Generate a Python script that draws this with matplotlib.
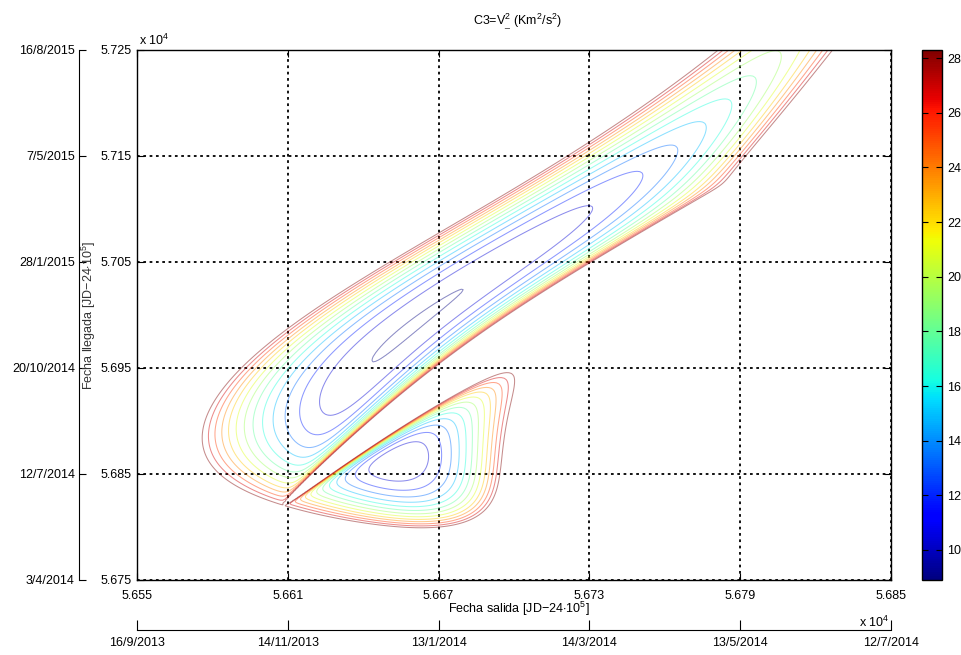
import numpy as np
import matplotlib
matplotlib.use("Agg")
import matplotlib.pyplot as plt
from matplotlib import colors, cm

plt.rcParams['font.family'] = ['Liberation Sans', 'DejaVu Sans']
plt.rcParams['mathtext.fontset'] = 'custom'
plt.rcParams['mathtext.rm'] = 'Liberation Sans'
plt.rcParams['mathtext.it'] = 'Liberation Sans'

# departure / arrival windows (JD - 2400000)
dep_range = [56550, 56850]
arr_range = [56750, 57250]
x_ticks = [56550, 56610, 56670, 56730, 56790, 56850]
y_ticks = [56750, 56850, 56950, 57050, 57150, 57250]
x_tick_labels = ['5.655', '5.661', '5.667', '5.673', '5.679', '5.685']
y_tick_labels = ['5.675', '5.685', '5.695', '5.705', '5.715', '5.725']
dep_dates = ['16/9/2013', '14/11/2013', '13/1/2014', '14/3/2014', '13/5/2014', '12/7/2014']
arr_dates = ['3/4/2014', '12/7/2014', '20/10/2014', '28/1/2015', '7/5/2015', '16/8/2015']

# mean orbital elements (J2000) and rates per century: a[AU], e, I, L, long.peri, long.node [deg]
earth_el = [1.00000261, 0.01671123, -0.00001531, 100.46457166, 102.93768193, 0.0]
earth_rate = [0.00000562, -0.00004392, -0.01294668, 35999.37244981, 0.32327364, 0.0]
mars_el = [1.52371034, 0.09339410, 1.84969142, -4.55343205, -23.94362959, 49.55953891]
mars_rate = [0.00001847, 0.00007882, -0.00813131, 19140.30268499, 0.44441088, -0.29257343]

# C3 contour levels and colour limits (km^2/s^2)
c3_levels = [8.9, 10.4, 11.9, 13.4, 14.9, 16.4, 17.9, 19.4, 20.9, 22.4, 23.8, 25.3, 26.8, 28.3]
c3_lim = [8.9, 28.3]
cbar_ticks = [10, 12, 14, 16, 18, 20, 22, 24, 26, 28]

MU = 1.32712440018e11
AU = 1.495978707e8


def planet_state(el, rate, jd):
    T = (jd + 2400000.0 - 2451545.0) / 36525.0
    a, e, inc, L, wbar, node = [el[i] + rate[i] * T for i in range(6)]
    a = a * AU
    inc, L, wbar, node = np.radians(inc), np.radians(L), np.radians(wbar), np.radians(node)
    w = wbar - node
    M = np.mod(L - wbar, 2 * np.pi)
    E = M.copy()
    for _ in range(15):
        E = E - (E - e * np.sin(E) - M) / (1 - e * np.cos(E))
    xp = a * (np.cos(E) - e)
    yp = a * np.sqrt(1 - e ** 2) * np.sin(E)
    n = np.sqrt(MU / a ** 3)
    Ed = n / (1 - e * np.cos(E))
    vxp = -a * np.sin(E) * Ed
    vyp = a * np.sqrt(1 - e ** 2) * np.cos(E) * Ed
    cw, sw, cO, sO, ci, si = np.cos(w), np.sin(w), np.cos(node), np.sin(node), np.cos(inc), np.sin(inc)
    R = [[cw * cO - sw * sO * ci, -sw * cO - cw * sO * ci],
         [cw * sO + sw * cO * ci, -sw * sO + cw * cO * ci],
         [sw * si, cw * si]]
    r = np.array([R[k][0] * xp + R[k][1] * yp for k in range(3)])
    v = np.array([R[k][0] * vxp + R[k][1] * vyp for k in range(3)])
    return r, v


def stumpff(z):
    S = np.full_like(z, 1.0 / 6.0)
    C = np.full_like(z, 0.5)
    p = z > 1e-8
    s = np.sqrt(z[p])
    S[p] = (s - np.sin(s)) / s ** 3
    C[p] = (1 - np.cos(s)) / z[p]
    q = z < -1e-8
    s = np.sqrt(-z[q])
    S[q] = (np.sinh(s) - s) / s ** 3
    C[q] = (np.cosh(s) - 1) / (-z[q])
    return S, C


dep = np.arange(dep_range[0], dep_range[1] + 1, 1.0)
arr = np.arange(arr_range[0], arr_range[1] + 1, 1.0)
D, A_ = np.meshgrid(dep, arr)
tof = (A_ - D) * 86400.0

r1, vE = planet_state(earth_el, earth_rate, D)
r2, vM = planet_state(mars_el, mars_rate, A_)
n1 = np.linalg.norm(r1, axis=0)
n2 = np.linalg.norm(r2, axis=0)
cosd = np.clip(np.sum(r1 * r2, axis=0) / (n1 * n2), -1, 1)
dth = np.arccos(cosd)
crz = r1[0] * r2[1] - r1[1] * r2[0]
dth = np.where(crz < 0, 2 * np.pi - dth, dth)
Acoef = np.sin(dth) * np.sqrt(n1 * n2 / (1 - np.cos(dth)))

# universal-variable Lambert solution, bisection on z
lo = np.full_like(D, -100.0)
hi = np.full_like(D, 4 * np.pi ** 2 - 1e-9)
for _ in range(70):
    z = 0.5 * (lo + hi)
    S, C = stumpff(z)
    y = n1 + n2 + Acoef * (z * S - 1) / np.sqrt(C)
    ypos = np.where(y > 0, y, 1.0)
    F = (ypos / C) ** 1.5 * S + Acoef * np.sqrt(ypos) - np.sqrt(MU) * tof
    F = np.where(y > 0, F, -1.0)
    lo = np.where(F < 0, z, lo)
    hi = np.where(F < 0, hi, z)
z = 0.5 * (lo + hi)
S, C = stumpff(z)
y = n1 + n2 + Acoef * (z * S - 1) / np.sqrt(C)
f = 1 - y / n1
g = Acoef * np.sqrt(np.abs(y) / MU)
v1 = (r2 - f * r1) / g
c3 = np.sum((v1 - vE) ** 2, axis=0)
c3 = np.where(tof > 60 * 86400, c3, np.nan)

W, H = 962, 655
fig = plt.figure(figsize=(W / 100, H / 100), dpi=100)
ax_l, ax_r, ax_t, ax_b = 137, 891, 50, 580
ax = fig.add_axes([ax_l / W, 1 - ax_b / H, (ax_r - ax_l) / W, (ax_b - ax_t) / H])

norm = colors.Normalize(vmin=c3_lim[0], vmax=c3_lim[1])
ax.contour(D, A_, c3, levels=c3_levels, cmap='jet', norm=norm, linewidths=0.75, alpha=0.45)

ax.set_xlim(dep_range)
ax.set_ylim(arr_range)
ax.set_xticks(x_ticks)
ax.set_xticklabels(x_tick_labels)
ax.set_yticks(y_ticks)
ax.set_yticklabels(y_tick_labels)
ax.tick_params(direction='in', top=True, right=True, length=5, labelsize=9)
ax.tick_params(axis='x', pad=7)
ax.tick_params(axis='y', pad=4)
ax.grid(True, color='black', linestyle=(0, (1.5, 2.0)), linewidth=1.3)
for s in ax.spines.values():
    s.set_linewidth(1.0)

ax.text(0.003, 1.004, r'x 10$^4$', transform=ax.transAxes, fontsize=9, ha='left', va='bottom')
fig.text(0.5 * (ax_l + ax_r) / W + 0.004, 1 - 22 / H, r'C3=V$^2_{\_}$ (Km$^2$/s$^2$)',
         fontsize=9, ha='center', va='center')
fig.text(89 / W, 1 - 0.5 * (ax_t + ax_b) / H, r'Fecha llegada [JD$-$24$\cdot$10$^5$]',
         rotation=90, fontsize=9, ha='center', va='center', color='#333333')
fig.text(519 / W, 1 - 609 / H, r'Fecha salida [JD$-$24$\cdot$10$^5$]',
         fontsize=9, ha='center', va='center')
fig.text(889 / W, 1 - 627 / H, r'x 10$^4$', fontsize=9, ha='right', va='baseline')

# colorbar
cax = fig.add_axes([922 / W, 1 - ax_b / H, 20 / W, (ax_b - ax_t) / H])
cb = fig.colorbar(cm.ScalarMappable(norm=norm, cmap='jet'), cax=cax)
cb.set_ticks(cbar_ticks)
cax.tick_params(direction='in', length=4, labelsize=9, left=True, right=True)
cb.outline.set_linewidth(1.0)

# secondary date axis (arrival)
lax = fig.add_axes([79 / W, 1 - ax_b / H, 0.0005, (ax_b - ax_t) / H])
lax.set_ylim(arr_range)
lax.set_yticks(y_ticks)
lax.set_yticklabels(arr_dates)
lax.set_xticks([])
for k in ['top', 'right', 'bottom']:
    lax.spines[k].set_visible(False)
lax.patch.set_visible(False)
lax.tick_params(axis='y', direction='in', length=5, labelsize=9, pad=3)

# secondary date axis (departure)
bax = fig.add_axes([ax_l / W, 1 - 630 / H, (ax_r - ax_l) / W, 0.0005])
bax.set_xlim(dep_range)
bax.set_xticks(x_ticks)
bax.set_xticklabels(dep_dates)
bax.set_yticks([])
for k in ['top', 'right', 'left']:
    bax.spines[k].set_visible(False)
bax.patch.set_visible(False)
bax.tick_params(axis='x', direction='in', length=7, labelsize=9, pad=5)

fig.savefig('out.png', dpi=100)
